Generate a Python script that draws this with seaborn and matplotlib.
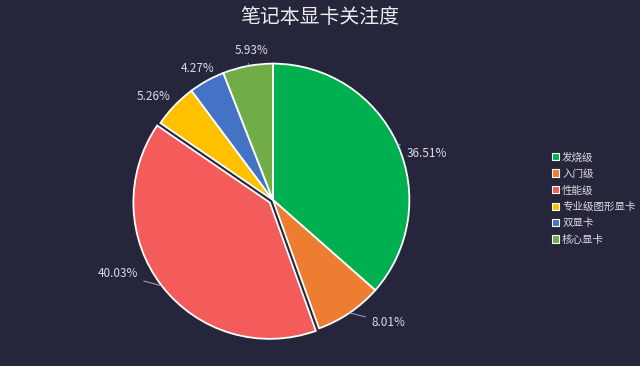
import numpy as np
import seaborn as sns
import matplotlib.pyplot as plt
from matplotlib.patches import Patch

categories = ["发烧级", "入门级", "性能级", "专业级图形显卡", "双显卡", "核心显卡"]
shares = [36.51, 8.01, 40.03, 5.26, 4.27, 5.93]
pct_labels = ["36.51%", "8.01%", "40.03%", "5.26%", "4.27%", "5.93%"]
colors = ["#00b050", "#ed7d31", "#f45b5b", "#ffc000", "#4472c4", "#70ad47"]

bg = "#25253b"
sns.set_theme(style="dark")
plt.rcParams["font.family"] = ["Noto Sans CJK SC", "DejaVu Sans"]

fig = plt.figure(figsize=(6.4, 3.66), dpi=100, facecolor=bg)
# pie centre around (273, 200) px, radius ~137 px
ax = fig.add_axes([(273 - 165) / 640, (166 - 165) / 366, 330 / 640, 330 / 366])
ax.set_facecolor(bg)

explode = [0, 0, 0.03, 0, 0, 0]
wedges, _ = ax.pie(shares, colors=colors, startangle=90, counterclock=False,
                   explode=explode, radius=1.0,
                   wedgeprops=dict(edgecolor="white", linewidth=1.3))
# pie() resets the limits, so set them afterwards
ax.set_xlim(-1.21, 1.21)
ax.set_ylim(-1.21, 1.21)
ax.set_aspect("equal")
ax.axis("off")

# label offsets (pixels) from the slice edge, and alignment
offsets = [(9, -10), (22, -10), (-24, 12), (-4, 9), (-9, 12), (4, 15)]
aligns = ["left", "left", "right", "right", "center", "center"]

for w, lab, ex, off, ha in zip(wedges, pct_labels, explode, offsets, aligns):
    mid = np.deg2rad((w.theta1 + w.theta2) / 2)
    r0 = 1.0 + ex
    ax.annotate(lab, xy=(r0 * np.cos(mid), r0 * np.sin(mid)),
                xytext=off, textcoords="offset pixels",
                ha=ha, va="center", color="#dcdce6", fontsize=8.5,
                arrowprops=dict(arrowstyle="-", color="#aaaabb", lw=0.7,
                                shrinkA=2, shrinkB=0))

fig.text(0.5, 0.952, "笔记本显卡关注度", ha="center", va="center",
         color="#ececf2", fontsize=14.3)

handles = [Patch(facecolor=col, edgecolor="white", linewidth=0.8) for col in colors]
leg = fig.legend(handles, categories, loc="center left",
                 bbox_to_anchor=(0.847, 0.458), frameon=False,
                 fontsize=7.6, handlelength=0.7, handleheight=0.7,
                 handletextpad=0.3, labelspacing=0.6)
for t in leg.get_texts():
    t.set_color("#dcdce6")

fig.savefig("out.png", dpi=100, facecolor=bg)
